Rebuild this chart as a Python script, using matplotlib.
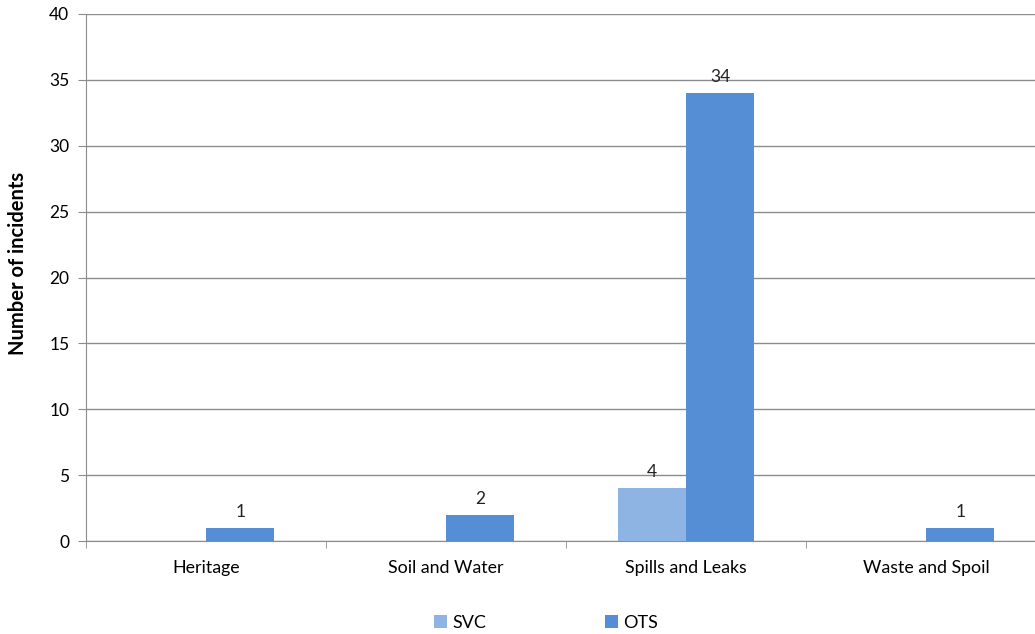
import numpy as np
import matplotlib.pyplot as plt

plt.rcParams['font.family'] = ['Lato', 'DejaVu Sans']

categories = ["Heritage", "Soil and Water", "Spills and Leaks", "Waste and Spoil"]
svc = [0, 0, 4, 0]
ots = [1, 2, 34, 1]
series_names = ["SVC", "OTS"]
colors = ["#8DB4E2", "#558ED5"]

W, H = 1035, 634
fig = plt.figure(figsize=(W / 100, H / 100), dpi=100)
# plot area runs a little past the right edge of the figure
ax = fig.add_axes([86 / W, 1 - 541 / H, 960 / W, (541 - 14) / H])

x = np.arange(len(categories))
bw = 0.285
ax.bar(x - bw / 2, svc, bw, color=colors[0], label=series_names[0], zorder=3)
ax.bar(x + bw / 2, ots, bw, color=colors[1], label=series_names[1], zorder=3)

for i, v in enumerate(svc):
    if v:
        ax.text(x[i] - bw / 2, v + 0.6, str(v), ha="center", va="bottom", fontsize=12.5, color="#222222")
for i, v in enumerate(ots):
    if v:
        ax.text(x[i] + bw / 2, v + 0.6, str(v), ha="center", va="bottom", fontsize=12.5, color="#222222")

ax.set_xlim(-0.5, len(categories) - 0.5)
ax.set_ylim(0, 40)
ax.set_yticks(range(0, 41, 5))
ax.yaxis.grid(True, color="#8c8c8c", linewidth=1)
ax.set_axisbelow(True)

ax.set_xticks(x)
ax.set_xticklabels(categories, fontsize=12.8)
ax.set_xticks(np.arange(-0.5, len(categories), 1), minor=True)
ax.tick_params(axis="x", which="major", length=0, pad=14)
ax.tick_params(axis="x", which="minor", length=5, color="#8c8c8c", direction="out")
ax.tick_params(axis="y", length=6, color="#8c8c8c", labelsize=12.5, pad=6)

for s in ["top", "right"]:
    ax.spines[s].set_visible(False)
for s in ["left", "bottom"]:
    ax.spines[s].set_color("#8c8c8c")

ax.set_ylabel("Number of incidents", fontsize=14.5, fontweight="bold")
ax.yaxis.set_label_coords(-58 / 960, 0.527)

fig.legend(loc="center", bbox_to_anchor=(546 / W, 1 - 623 / H), ncol=2, frameon=False,
           fontsize=13, handlelength=0.7, handleheight=0.7, columnspacing=6.6, handletextpad=0.3)

fig.savefig("out.png", dpi=100)
